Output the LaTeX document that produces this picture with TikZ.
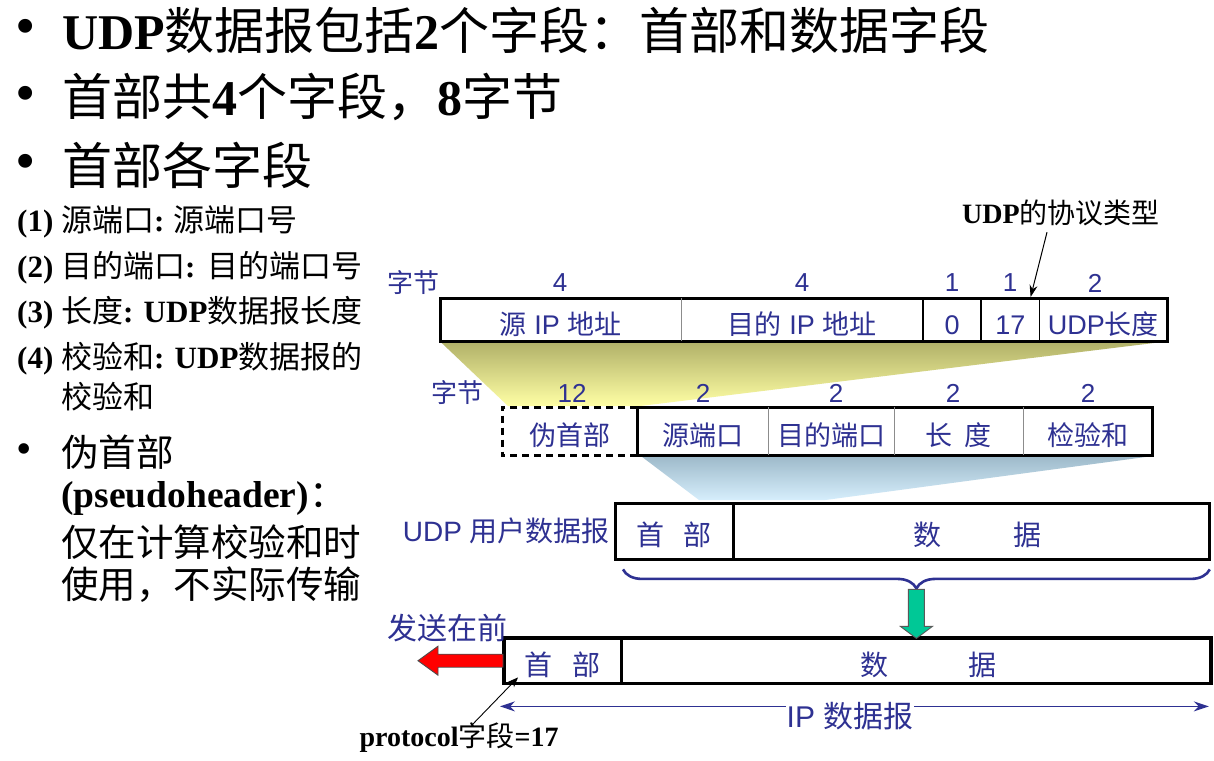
\documentclass[tikz,border=0pt]{standalone}
\usepackage{fontspec}
\setmainfont{Liberation Serif}
\newfontfamily\zhfont{Noto Sans CJK SC}
\newfontfamily\sansf{Liberation Sans}
\usetikzlibrary{arrows.meta,decorations.pathreplacing,calc}
\definecolor{ublue}{RGB}{46,49,146}
\definecolor{yelA}{RGB}{176,176,104}
\definecolor{yelB}{RGB}{255,255,165}
\definecolor{bluA}{RGB}{158,186,202}
\definecolor{bluB}{RGB}{214,238,252}
\definecolor{arrgreen}{RGB}{0,200,150}
\newcommand\zh[1]{{\zhfont #1}}
\newcommand\fsz[1]{\fontsize{#1}{#1}\selectfont}
\begin{document}
\begin{tikzpicture}[x=1pt,y=-1pt,
  txt/.style={inner sep=0pt, anchor=west, text=black},
  bul/.style={inner sep=0pt, text=black},
  lbl/.style={inner sep=0pt, text=ublue, font=\sansf\fsz{26}},
  cell/.style={inner sep=0pt, anchor=north west, text=ublue, font=\sansf\fsz{27}, text height=31pt, text depth=1.5pt},
  outer/.style={line width=3pt, draw=black},
  thindiv/.style={line width=0.9pt, draw=black!45},
  div/.style={line width=1.6pt, draw=black},
  hugediv/.style={line width=2.2pt, draw=black}]
\useasboundingbox[fill=white] (0,0) rectangle (1214,760);

% ---------- left text ----------
\node[bul, font=\fsz{58}] (b1) at (26,32) {\textbullet};
\node[txt, font=\fsz{50}] (t1) at (62,30) {\textbf{UDP}\zh{数据报包括}\textbf{2}\zh{个字段：首部和数据字段}};
\node[bul, font=\fsz{58}] (b2) at (26,99) {\textbullet};
\node[txt, font=\fsz{50}] (t2) at (62,97) {\zh{首部共}\textbf{4}\zh{个字段，}\textbf{8}\zh{字节}};
\node[bul, font=\fsz{58}] (b3) at (26,167) {\textbullet};
\node[txt, font=\fsz{50}] (t3) at (62,165) {\zh{首部各字段}};

\node[txt, font=\fsz{31}] (s1) at (17,222) {\textbf{(1)} \zh{源端口}\textbf{:}\hspace{9pt}\zh{源端口号}};
\node[txt, font=\fsz{31}] (s2) at (17,268) {\textbf{(2)} \zh{目的端口}\textbf{:}\hspace{12pt}\zh{目的端口号}};
\node[txt, font=\fsz{31}] (s3) at (17,313) {\textbf{(3)} \zh{长度}\textbf{: UDP}\zh{数据报长度}};
\node[txt, font=\fsz{31}] (s4) at (17,359) {\textbf{(4)} \zh{校验和}\textbf{: UDP}\zh{数据报的}};
\node[txt, font=\fsz{31}] (s5) at (61,397) {\zh{校验和}};

\node[bul, font=\fsz{44}] (b4) at (24,454) {\textbullet};
\node[txt, font=\fsz{37.5}] (p1) at (61,452) {\zh{伪首部}};
\node[txt, font=\fsz{37.5}] (p2) at (61,498) {\textbf{(pseudoheader)}\zh{：}};
\node[txt, font=\fsz{37.5}] (p3) at (61,542) {\zh{仅在计算校验和时}};
\node[txt, font=\fsz{37.5}] (p4) at (61,585) {\zh{使用，不实际传输}};

% ---------- row 1: IP pseudo header ----------
\node[cell, minimum width=241pt, minimum height=43pt] (sip) at (440,298) {\zh{源} IP \zh{地址}};
\node[cell, minimum width=241pt, minimum height=43pt] (dip) at (sip.north east) {\zh{目的} IP \zh{地址}};
\node[cell, minimum width=58pt, minimum height=43pt] (zero) at (dip.north east) {0};
\node[cell, minimum width=58pt, minimum height=43pt] (prot) at (zero.north east) {17};
\node[cell, minimum width=127pt, minimum height=43pt] (ulen) at (prot.north east) {UDP\zh{长度}};

% ---------- row 2: UDP header ----------
\node[cell, minimum width=135pt, minimum height=48pt] (pseudo) at (502,407) {\zh{伪首部}};
\node[cell, minimum width=131pt, minimum height=48pt] (sport) at (pseudo.north east) {\zh{源端口}};
\node[cell, minimum width=125pt, minimum height=48pt] (dport) at (sport.north east) {\zh{目的端口}};
\node[cell, minimum width=129pt, minimum height=48pt] (len) at (dport.north east) {\zh{长\hspace{12pt}度}};
\node[cell, minimum width=128pt, minimum height=48pt] (csum) at (len.north east) {\zh{检验和}};

% ---------- row 3: UDP user datagram ----------
\node[cell, font=\sansf\fsz{28}, minimum width=118pt, minimum height=56pt] (uhdr) at (615,503) {\zh{首\hspace{19pt}部}};
\node[cell, font=\sansf\fsz{28}, minimum width=476pt, minimum height=56pt] (udata) at (uhdr.north east) {\hspace{12pt}\zh{数\hspace{72pt}据}};
\node[lbl, font=\sansf\fsz{28}, anchor=east] (ulabel) at (610,531) {UDP \zh{用户数据报}};

% ---------- row 4: IP datagram ----------
\node[cell, font=\sansf\fsz{28}, minimum width=117pt, minimum height=45pt] (ihdr) at (504,638) {\zh{首\hspace{20pt}部}};
\node[cell, font=\sansf\fsz{28}, minimum width=589pt, minimum height=45pt] (idata) at (ihdr.north east) {\hspace{24pt}\zh{数\hspace{80pt}据}};

% ---------- shadings ----------
\shade[top color=yelA, bottom color=yelB]
  (sip.south west) -- (ulen.south east) -- ($(sport.north west)+(3,-1)$) -- ($(pseudo.north west)+(6,-1)$) -- cycle;
\shade[top color=bluA, bottom color=bluB]
  ($(sport.south west)+(4,1)$) -- ($(csum.south east)+(-2,1)$) -- ($(udata.north west)+(92,-3)$) -- ($(uhdr.north west)+(84,-3)$) -- cycle;

% ---------- byte labels ----------
\node[lbl] (bytes1) at (413,283) {\zh{字节}};
\node[lbl] (n1) at (560,283) {4};
\node[lbl] (n2) at (802,283) {4};
\node[lbl] (n3) at (952,283) {1};
\node[lbl] (n4) at (1010,283) {1};
\node[lbl] (n5) at (1095,283) {2};
\node[lbl] (bytes2) at (457,393) {\zh{字节}};
\node[lbl] (m1) at (572,393) {12};
\node[lbl] (m2) at (703,393) {2};
\node[lbl] (m3) at (836,393) {2};
\node[lbl] (m4) at (953,393) {2};
\node[lbl] (m5) at (1088,393) {2};

% ---------- borders ----------
\draw[outer] (sip.north west) rectangle (ulen.south east);
\draw[thindiv] (dip.north west) -- (dip.south west);
\draw[div] (zero.north west) -- (zero.south west);
\draw[div] (prot.north west) -- (prot.south west);
\draw[div] (ulen.north west) -- (ulen.south west);

\draw[line width=3pt, dash pattern=on 7pt off 5pt] (sport.north west) -- (pseudo.north west) -- (pseudo.south west) -- (sport.south west);
\draw[outer] (sport.north west) rectangle (csum.south east);
\draw[thindiv] (dport.north west) -- (dport.south west);
\draw[thindiv] (len.north west) -- (len.south west);
\draw[thindiv] (csum.north west) -- (csum.south west);

\draw[outer] (uhdr.north west) rectangle (udata.south east);
\draw[hugediv] (udata.north west) -- (udata.south west);

\draw[line width=3.5pt] (ihdr.north west) rectangle (idata.south east);
\draw[hugediv] (idata.north west) -- (idata.south west);

% ---------- UDP protocol type annotation ----------
\node[inner sep=0pt, font=\fsz{28}] (ptype) at (1061,213) {\textbf{UDP}\zh{的协议类型}};
\coordinate (ptypetip) at ($(prot.north east)+(-9,-1)$);
\draw[line width=1pt, -{Stealth[length=12pt,width=8pt]}] ($(ptype.south)+(-14,6)$) -- (ptypetip);

% ---------- brace and green arrow ----------
\coordinate (bl) at ($(uhdr.south west)+(8,10)$);
\coordinate (br) at ($(udata.south east)+(0,10)$);
\draw[ublue, line width=2.6pt, decorate, decoration={brace, mirror, amplitude=19pt}] (bl) -- (br);
\coordinate (btip) at ($(bl)!0.5!(br)+(0,20)$);
\filldraw[fill=arrgreen, draw=black!65, line width=0.9pt]
  ($(btip)+(-8,0)$) -- ($(btip)+(8,0)$) -- ($(btip)+(8,37)$) -- ($(btip)+(16,37)$) -- ($(btip)+(0,49)$)
  -- ($(btip)+(-16,37)$) -- ($(btip)+(-8,37)$) -- cycle;

% ---------- red arrow ----------
\coordinate (rtail) at (ihdr.west);
\filldraw[fill=red, draw=black!70, line width=0.9pt]
  ($(rtail)+(-1,-6.5)$) -- ($(rtail)+(-66,-6.5)$) -- ($(rtail)+(-66,-14.5)$) -- ($(rtail)+(-86,0)$)
  -- ($(rtail)+(-66,14.5)$) -- ($(rtail)+(-66,6.5)$) -- ($(rtail)+(-1,6.5)$) -- cycle;
\node[lbl, font=\sansf\fsz{30}] (first) at (447,628) {\zh{发送在前}};

% ---------- IP datagram length arrow ----------
\draw[ublue, line width=1.2pt, {Stealth[length=15pt,width=10pt]}-{Stealth[length=15pt,width=10pt]}]
  ($(ihdr.south west)+(-4,23)$) -- ($(idata.south east)+(-2,23)$);
\node[lbl, font=\sansf\fsz{30}, fill=white, inner sep=1pt] (iplabel) at (850,716) {IP \zh{数据报}};

% ---------- protocol field annotation ----------
\node[inner sep=0pt, font=\fsz{28}] (proto) at (459,738) {\textbf{protocol}\zh{字段}\textbf{=17}};
\coordinate (protip) at ($(ihdr.south west)+(14,-6)$);
\draw[line width=0.9pt, -{Stealth[length=10pt,width=8pt]}] ($(proto.north)+(13,2)$) -- (protip);
\end{tikzpicture}
\end{document}
